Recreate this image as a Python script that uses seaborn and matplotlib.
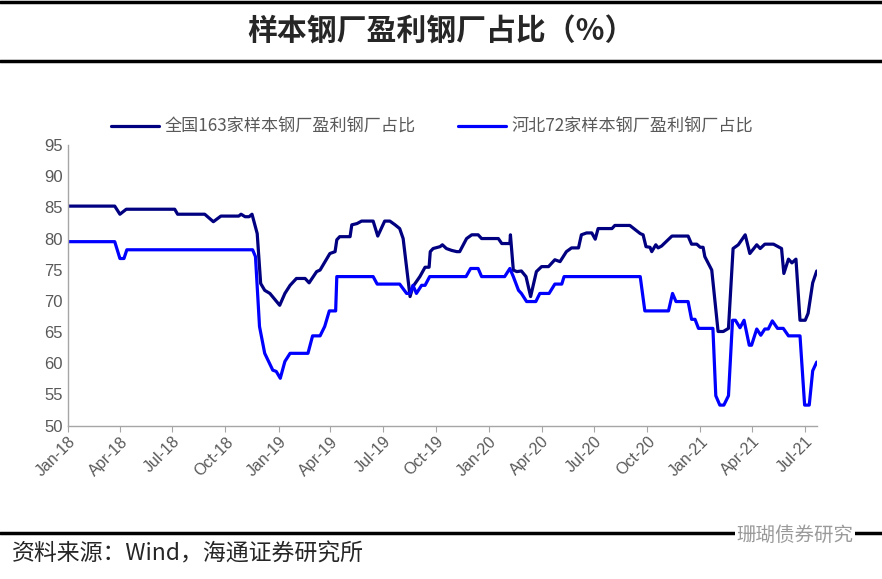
import pandas as pd
import seaborn as sns
import matplotlib.pyplot as plt
import matplotlib.dates as mdates
from matplotlib.lines import Line2D

# 全国163家样本钢厂盈利钢厂占比
nat_dates = ['2018-01-01', '2018-03-23', '2018-04-01', '2018-04-12', '2018-07-05', '2018-07-10',
             '2018-08-26', '2018-09-10', '2018-09-23', '2018-10-24', '2018-10-28', '2018-11-04',
             '2018-11-11', '2018-11-16', '2018-11-25', '2018-12-01', '2018-12-08', '2018-12-17',
             '2019-01-03', '2019-01-12', '2019-01-21', '2019-02-01', '2019-02-16', '2019-02-23',
             '2019-03-08', '2019-03-14', '2019-03-31', '2019-04-09', '2019-04-12', '2019-04-17',
             '2019-05-05', '2019-05-08', '2019-05-17', '2019-05-25', '2019-06-14', '2019-06-22',
             '2019-07-04', '2019-07-13', '2019-07-22', '2019-07-30', '2019-08-05', '2019-08-17',
             '2019-08-22', '2019-09-03', '2019-09-12', '2019-09-19', '2019-09-21', '2019-09-26',
             '2019-10-08', '2019-10-12', '2019-10-19', '2019-10-28', '2019-11-06', '2019-11-11',
             '2019-11-23', '2019-12-02', '2019-12-13', '2019-12-19', '2020-01-17', '2020-01-23',
             '2020-02-06', '2020-02-07', '2020-02-12', '2020-02-18', '2020-02-26', '2020-03-05',
             '2020-03-13', '2020-03-23', '2020-04-01', '2020-04-13', '2020-04-24', '2020-05-03',
             '2020-05-14', '2020-05-23', '2020-06-04', '2020-06-09', '2020-06-18', '2020-06-27',
             '2020-07-03', '2020-07-08', '2020-08-01', '2020-08-06', '2020-09-01', '2020-09-19',
             '2020-09-24', '2020-09-29', '2020-10-06', '2020-10-09', '2020-10-16', '2020-10-20',
             '2020-10-26', '2020-11-13', '2020-12-11', '2020-12-17', '2020-12-26', '2021-01-01',
             '2021-01-06', '2021-01-09', '2021-01-21', '2021-02-01', '2021-02-10', '2021-02-19',
             '2021-02-27', '2021-03-08', '2021-03-20', '2021-03-28', '2021-04-09', '2021-04-15',
             '2021-04-23', '2021-05-08', '2021-05-22', '2021-05-26', '2021-06-03', '2021-06-09',
             '2021-06-16', '2021-06-23', '2021-07-02', '2021-07-07', '2021-07-15', '2021-07-22']
nat_values = [85.2, 85.2, 83.9, 84.7, 84.7, 83.9,
              83.9, 82.7, 83.6, 83.6, 83.9, 83.5,
              83.5, 83.9, 80.8, 72.8, 71.7, 71.2,
              69.3, 71.2, 72.5, 73.6, 73.6, 72.9,
              74.7, 74.95, 77.6, 77.9, 79.8, 80.3,
              80.3, 82.2, 82.4, 82.8, 82.8, 80.4,
              82.8, 82.8, 82.2, 81.6, 80.0, 70.7,
              72.3, 73.9, 75.4, 75.4, 77.9, 78.4,
              78.7, 79.0, 78.4, 78.1, 77.9, 77.9,
              80.0, 80.6, 80.6, 80.0, 80.0, 79.2,
              79.2, 80.6, 74.95, 74.7, 74.8, 73.9,
              70.7, 74.7, 75.5, 75.5, 76.6, 76.3,
              77.9, 78.5, 78.5, 80.6, 80.9, 80.9,
              79.9, 81.6, 81.6, 82.1, 82.1, 80.8,
              80.6, 78.7, 78.6, 77.9, 79.0, 78.5,
              78.8, 80.4, 80.4, 79.1, 79.1, 78.6,
              78.6, 77.1, 74.95, 65.1, 65.1, 65.6,
              78.4, 79.0, 80.6, 77.6, 79.0, 78.4,
              79.1, 79.1, 78.4, 74.4, 76.7, 76.1,
              76.7, 66.9, 66.9, 68.0, 72.9, 74.8]

# 河北72家样本钢厂盈利钢厂占比
heb_dates = ['2018-01-01', '2018-03-23', '2018-04-01', '2018-04-08', '2018-04-13', '2018-11-17',
             '2018-11-22', '2018-11-29', '2018-12-08', '2018-12-22', '2018-12-28', '2019-01-04',
             '2019-01-12', '2019-01-21', '2019-02-21', '2019-03-01', '2019-03-14', '2019-03-22',
             '2019-03-30', '2019-04-10', '2019-04-12', '2019-06-14', '2019-06-21', '2019-07-30',
             '2019-08-11', '2019-08-17', '2019-08-22', '2019-08-28', '2019-09-06', '2019-09-12',
             '2019-09-20', '2019-11-22', '2019-11-30', '2019-12-13', '2019-12-19', '2020-01-28',
             '2020-02-06', '2020-02-12', '2020-02-21', '2020-02-26', '2020-03-06', '2020-03-22',
             '2020-03-29', '2020-04-14', '2020-04-24', '2020-05-06', '2020-05-10', '2020-09-19',
             '2020-09-27', '2020-11-07', '2020-11-14', '2020-11-20', '2020-12-11', '2020-12-17',
             '2020-12-23', '2020-12-29', '2021-01-23', '2021-01-28', '2021-02-04', '2021-02-11',
             '2021-02-19', '2021-02-26', '2021-03-03', '2021-03-11', '2021-03-18', '2021-03-27',
             '2021-03-31', '2021-04-09', '2021-04-16', '2021-04-23', '2021-04-29', '2021-05-06',
             '2021-05-15', '2021-05-25', '2021-06-03', '2021-06-23', '2021-07-01', '2021-07-09',
             '2021-07-15', '2021-07-22']
heb_values = [79.5, 79.5, 76.8, 76.8, 78.2, 78.2,
              77.1, 65.9, 61.6, 58.9, 58.7, 57.6,
              60.3, 61.6, 61.6, 64.4, 64.4, 65.9,
              68.4, 68.4, 73.9, 73.9, 72.7, 72.7,
              71.2, 71.2, 72.5, 71.2, 72.5, 72.5,
              73.9, 73.9, 75.2, 75.2, 73.9, 73.9,
              75.2, 73.9, 71.7, 71.2, 69.9, 69.9,
              71.2, 71.2, 72.7, 72.7, 73.9, 73.9,
              68.4, 68.4, 71.2, 69.9, 69.9, 67.05,
              67.05, 65.6, 65.6, 54.8, 53.3, 53.3,
              54.8, 66.9, 66.9, 65.7, 66.9, 62.9,
              62.9, 65.5, 64.5, 65.5, 65.5, 66.8,
              65.6, 65.6, 64.4, 64.4, 53.3, 53.3,
              58.8, 60.2]

series_names = ['全国163家样本钢厂盈利钢厂占比', '河北72家样本钢厂盈利钢厂占比']
series_colors = ['#000080', '#0000FF']

df = pd.concat([
    pd.DataFrame({'date': pd.to_datetime(nat_dates), 'value': nat_values, 'series': series_names[0]}),
    pd.DataFrame({'date': pd.to_datetime(heb_dates), 'value': heb_values, 'series': series_names[1]}),
])

sns.set_style('white')
plt.rcParams['font.family'] = ['Liberation Sans', 'Noto Sans CJK SC', 'DejaVu Sans']

fig = plt.figure(figsize=(8.82, 5.79), dpi=100)
ax = fig.add_axes([0.0771, 0.2648, 0.8489, 0.4848])

sns.lineplot(data=df, x='date', y='value', hue='series', palette=series_colors,
             estimator=None, sort=False, linewidth=2.3, legend=False, ax=ax)

ax.set_xlim(pd.Timestamp('2018-01-01'), pd.Timestamp('2021-07-22'))
ax.set_ylim(50, 95)
ax.set_yticks(range(50, 96, 5))
ax.xaxis.set_major_locator(mdates.MonthLocator(bymonth=[1, 4, 7, 10]))
ax.xaxis.set_major_formatter(mdates.DateFormatter('%b-%y'))
ax.set_xlabel('')
ax.set_ylabel('')

for s in ['top', 'right']:
    ax.spines[s].set_visible(False)
for s in ['left', 'bottom']:
    ax.spines[s].set_color('#a6a6a6')
    ax.spines[s].set_linewidth(1.0)
ax.tick_params(axis='x', length=4, color='#a6a6a6', labelsize=11.5, labelcolor='#595959',
               bottom=True, pad=2)
ax.tick_params(axis='y', length=0, labelsize=12, labelcolor='#595959', pad=4)
for lbl in ax.get_xticklabels():
    lbl.set_rotation(45)
    lbl.set_ha('right')
    lbl.set_rotation_mode('anchor')

handles = [Line2D([], [], color=c, linewidth=2.3) for c in series_colors]
leg = fig.legend(handles, series_names, loc='center', bbox_to_anchor=(0.49, 0.781), ncol=2,
                 frameon=False, handlelength=2.8, handletextpad=0.3, columnspacing=2.5,
                 prop={'family': ['Noto Sans CJK SC'], 'size': 12.3})
for t in leg.get_texts():
    t.set_color('#595959')

# header and footer
fig.add_artist(Line2D([0, 1], [0.996, 0.996], color='black', linewidth=2.5))
fig.add_artist(Line2D([0, 1], [0.895, 0.895], color='black', linewidth=2.5))
fig.add_artist(Line2D([0, 1], [0.079, 0.079], color='black', linewidth=2.5))
fig.text(0.5, 0.946, '样本钢厂盈利钢厂占比（%）', ha='center', va='center', fontsize=21.5,
         fontweight='bold', family=['Noto Sans CJK SC'])
fig.text(0.014, 0.043, '资料来源：Wind，海通证券研究所', ha='left', va='center', fontsize=16.5,
         family=['Noto Sans CJK SC'])
fig.text(0.968, 0.075, '珊瑚债券研究', ha='right', va='center', fontsize=14,
         color='#9a9a9a', family=['Noto Sans CJK SC'],
         bbox=dict(facecolor='white', edgecolor='none', pad=1))

fig.savefig('out.png', dpi=100)
